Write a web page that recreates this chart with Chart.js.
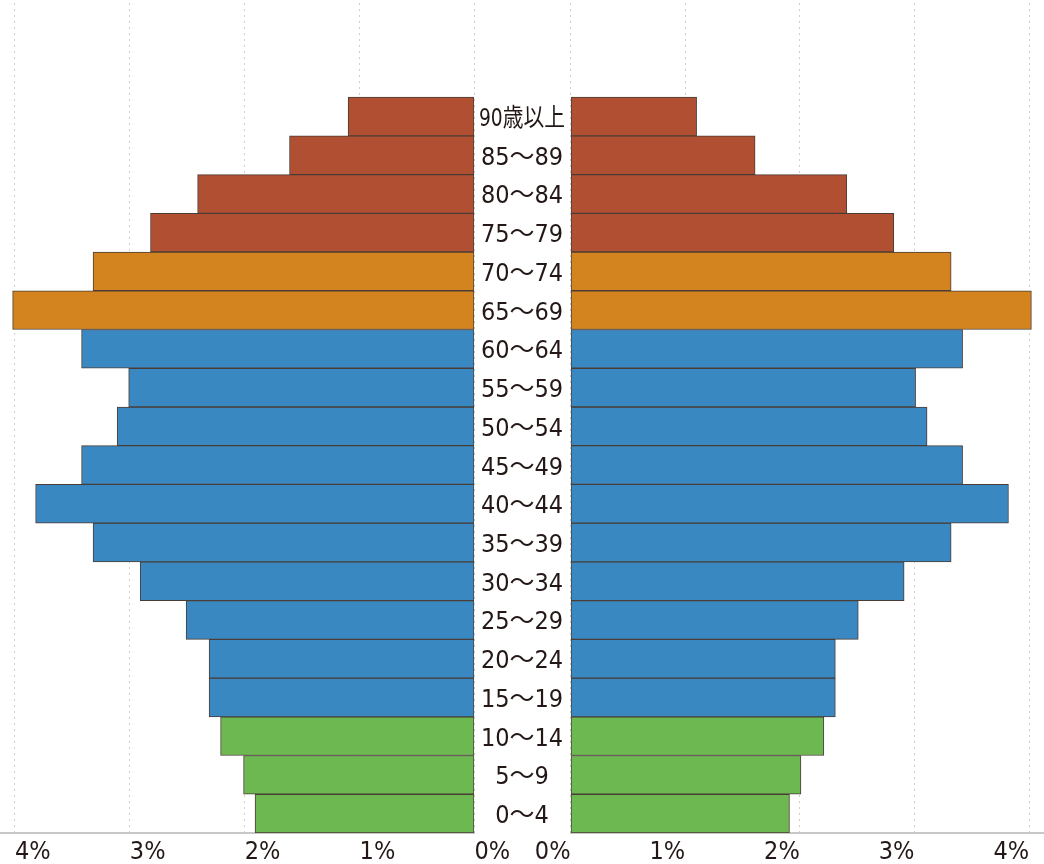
<!DOCTYPE html>
<html>
<head>
<meta charset="utf-8">
<script src="https://cdn.jsdelivr.net/npm/chart.js@4/dist/chart.umd.min.js"></script>
<style>
  html, body { margin: 0; padding: 0; background: #fff; }
  #wrap { position: relative; width: 1044px; height: 864px; }
  #wrap canvas { position: absolute; left: 0; top: 0; }
</style>
</head>
<body>
<div id="wrap">
  <canvas id="left" width="1044" height="864"></canvas>
  <canvas id="right" width="1044" height="864"></canvas>
</div>
<script>
// age groups, bottom to top
const ages = ['0～4', '5～9', '10～14', '15～19', '20～24', '25～29', '30～34', '35～39', '40～44',
  '45～49', '50～54', '55～59', '60～64', '65～69', '70～74', '75～79', '80～84', '85～89', '90歳以上'];
// share of population (%)
const leftValues = [1.91, 2.01, 2.21, 2.31, 2.31, 2.51, 2.91, 3.32, 3.82, 3.42,
  3.11, 3.01, 3.42, 4.02, 3.32, 2.82, 2.41, 1.61, 1.10];
const rightValues = [1.91, 2.01, 2.21, 2.31, 2.31, 2.51, 2.91, 3.32, 3.82, 3.42,
  3.11, 3.01, 3.42, 4.02, 3.32, 2.82, 2.41, 1.61, 1.10];
const xTicks = [0, 1, 2, 3, 4];

const FONT = '"Liberation Sans Narrow", "DejaVu Sans Condensed", "Noto Sans CJK JP", sans-serif';
const TEXT = '#231815';

function barColor(ctx) {
  const i = ctx.dataIndex;
  if (i < 3) return '#6db850';   // 0-14
  if (i < 13) return '#3a88c1';  // 15-64
  if (i < 15) return '#d3841e';  // 65-74
  return '#b14f33';              // 75+
}

const ageLabels = {
  id: 'ageLabels',
  afterDatasetsDraw(chart) {
    const { ctx, scales: { y } } = chart;
    ctx.save();
    ctx.font = '25px ' + FONT;
    ctx.fillStyle = TEXT;
    ctx.textAlign = 'center';
    ctx.textBaseline = 'middle';
    ages.forEach((a, i) => ctx.fillText(a, 522, y.getPixelForValue(i) + 3, 86));
    ctx.restore();
  }
};

function makeChart(id, values, side) {
  const isLeft = side === 'left';
  return new Chart(document.getElementById(id), {
    type: 'bar',
    data: {
      datasets: [{
        data: values.map((v, i) => ({ x: v, y: i })),
        backgroundColor: barColor,
        borderColor: '#4a3c35',
        borderWidth: 1,
        borderSkipped: false,
        barPercentage: 1,
        categoryPercentage: 1
      }]
    },
    options: {
      indexAxis: 'y',
      responsive: false,
      animation: false,
      devicePixelRatio: 1,
      layout: {
        padding: isLeft ? { left: 0, right: 1044 - 474.5, top: 3, bottom: 0 }
                        : { left: 570.5, right: 0, top: 3, bottom: 0 }
      },
      plugins: { legend: { display: false }, tooltip: { enabled: false } },
      scales: {
        x: {
          type: 'linear',
          reverse: isLeft,
          min: 0,
          max: 4.13,
          afterBuildTicks: s => { s.ticks = xTicks.map(v => ({ value: v })); },
          afterFit: s => { s.height = 31; },
          grid: { color: '#cfcfcf', drawTicks: false },
          border: { display: true, color: '#c8c8c8', width: 2, dash: [2, 4] },
          ticks: {
            align: isLeft ? 'start' : 'end',
            padding: 4,
            color: TEXT,
            font: { family: FONT, size: 25 },
            callback: v => v + '%'
          }
        },
        y: {
          type: 'linear',
          display: false,
          offset: false,
          min: -0.5,
          max: 20.93,
          afterBuildTicks: s => { s.ticks = ages.map((a, i) => ({ value: i })); }
        }
      }
    },
    plugins: isLeft ? [] : [ageLabels]
  });
}

makeChart('left', leftValues, 'left');
makeChart('right', rightValues, 'right');
</script>
</body>
</html>
